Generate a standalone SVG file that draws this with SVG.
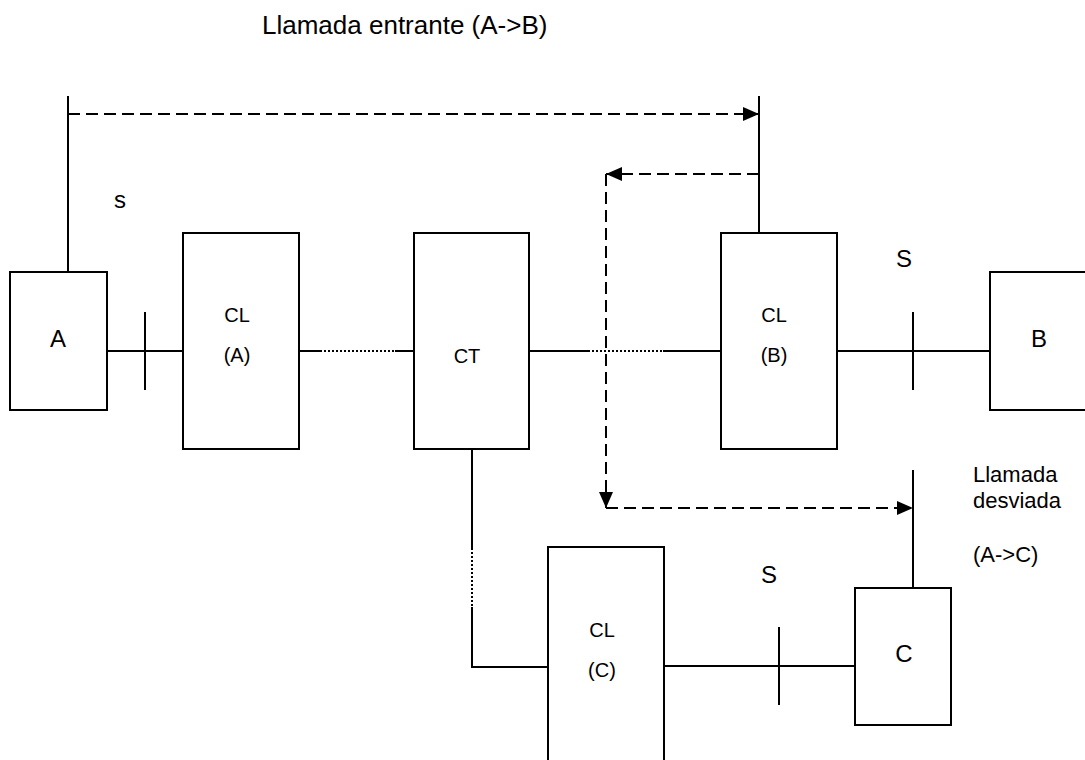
<svg xmlns="http://www.w3.org/2000/svg" width="1085" height="760" viewBox="0 0 1085 760">
<style>
.box{fill:#fff;stroke:#000;stroke-width:2}
.ln{stroke:#000;stroke-width:2;fill:none}
.dot{stroke:#000;stroke-width:2;fill:none;stroke-dasharray:2,2}
.dash{stroke:#000;stroke-width:2;fill:none;stroke-dasharray:12,6}
.big{font-family:"Liberation Sans",Arial,sans-serif;font-size:24px;fill:#000}
.lbl{font-family:"Liberation Sans",Arial,sans-serif;font-size:22px;fill:#000}
.ttl{font-family:"Liberation Sans",Arial,sans-serif;font-size:26px;fill:#000}
.sm{font-family:"Liberation Sans",Arial,sans-serif;font-size:20px;fill:#000}
</style>
<defs>
<marker id="ah" viewBox="0 0 16 14" refX="16" refY="7" markerWidth="16" markerHeight="14" markerUnits="userSpaceOnUse" orient="auto">
<path d="M0,0 L16,7 L0,14 Z" fill="#000"/>
</marker>
</defs>
<rect width="1085" height="760" fill="#fff"/>
<text class="ttl" x="262" y="34">Llamada entrante (A-&gt;B)</text>
<text class="big" x="120" y="208" text-anchor="middle">s</text>
<text class="big" x="904" y="267" text-anchor="middle">S</text>
<text class="big" x="769" y="583" text-anchor="middle">S</text>
<text class="lbl" x="973" y="482">Llamada</text>
<text class="lbl" x="973" y="508">desviada</text>
<text class="lbl" x="973" y="562">(A-&gt;C)</text>
<g id="connectors">
<line class="ln" x1="68" y1="96" x2="68" y2="272"/>
<line class="ln" x1="759" y1="96" x2="759" y2="233"/>
<line class="ln" x1="913" y1="470" x2="913" y2="588"/>
<line class="ln" x1="107" y1="351" x2="183" y2="351"/>
<line class="ln" x1="145" y1="312" x2="145" y2="390"/>
<line class="ln" x1="299" y1="351" x2="320" y2="351"/>
<line class="dot" x1="320" y1="351" x2="395" y2="351"/>
<line class="ln" x1="395" y1="351" x2="414" y2="351"/>
<line class="ln" x1="529" y1="351" x2="588" y2="351"/>
<line class="dot" x1="588" y1="351" x2="663" y2="351"/>
<line class="ln" x1="663" y1="351" x2="721" y2="351"/>
<line class="ln" x1="837" y1="351" x2="990" y2="351"/>
<line class="ln" x1="913" y1="312" x2="913" y2="390"/>
<line class="ln" x1="472" y1="449" x2="472" y2="548"/>
<line class="dot" x1="472" y1="548" x2="472" y2="607"/>
<polyline class="ln" points="472,607 472,667 548,667"/>
<line class="ln" x1="664" y1="666" x2="855" y2="666"/>
<line class="ln" x1="779" y1="627" x2="779" y2="705"/>
<line class="dash" x1="68" y1="114" x2="759" y2="114" marker-end="url(#ah)"/>
<line class="dash" x1="759" y1="174" x2="606" y2="174" marker-end="url(#ah)"/>
<line class="dash" x1="606" y1="174" x2="606" y2="508" marker-end="url(#ah)"/>
<line class="dash" x1="606" y1="508" x2="913" y2="508" marker-end="url(#ah)"/>
</g>
<g id="nodeA">
<rect class="box" x="10" y="272" width="97" height="138"/>
<text class="big" x="58" y="347" text-anchor="middle">A</text>
</g>
<g id="nodeCLA">
<rect class="box" x="183" y="233" width="116" height="216"/>
<text class="sm" x="237" y="322" text-anchor="middle">CL</text>
<text class="sm" x="237" y="362" text-anchor="middle">(A)</text>
</g>
<g id="nodeCT">
<rect class="box" x="414" y="233" width="115" height="216"/>
<text class="sm" x="467" y="363" text-anchor="middle">CT</text>
</g>
<g id="nodeCLB">
<rect class="box" x="721" y="233" width="116" height="216"/>
<text class="sm" x="774" y="322" text-anchor="middle">CL</text>
<text class="sm" x="774" y="362" text-anchor="middle">(B)</text>
</g>
<g id="nodeB">
<rect class="box" x="990" y="272" width="100" height="138"/>
<text class="big" x="1039" y="347" text-anchor="middle">B</text>
</g>
<g id="nodeCLC">
<rect class="box" x="548" y="547" width="116" height="220"/>
<text class="sm" x="602" y="637" text-anchor="middle">CL</text>
<text class="sm" x="602" y="677" text-anchor="middle">(C)</text>
</g>
<g id="nodeC">
<rect class="box" x="855" y="588" width="96" height="137"/>
<text class="big" x="904" y="662" text-anchor="middle">C</text>
</g>
</svg>
